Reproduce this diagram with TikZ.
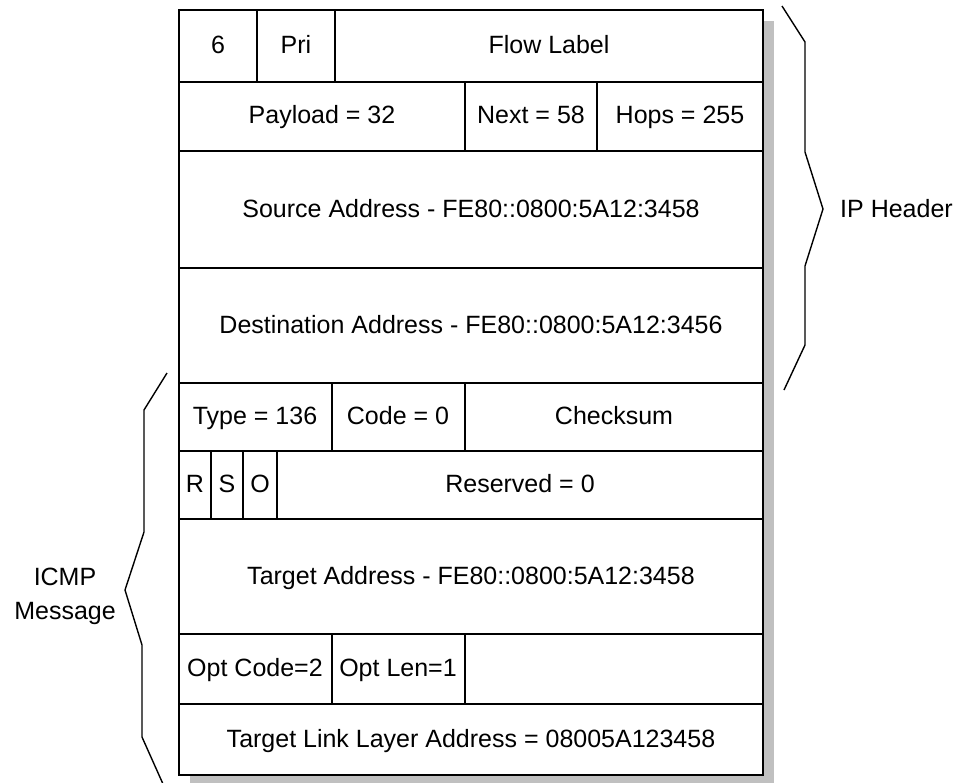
\documentclass[tikz,border=0pt]{standalone}
\usepackage{fontspec}
\setmainfont{Liberation Sans}
\definecolor{shadowgray}{HTML}{C0C0C0}
\begin{document}
\begin{tikzpicture}[x=1pt,y=-1pt,
  font=\fontsize{25}{30}\selectfont,
  cellline/.style={line width=1.3pt},
  outerline/.style={line width=1.8pt},
  brace/.style={line width=1.4pt, line join=miter},
  lbl/.style={inner sep=0pt, text height=18pt, text depth=4pt, anchor=center}]
\useasboundingbox (0,0) rectangle (964,782);
% shadow and packet body
\fill[shadowgray] (190,21) rectangle (774,786);
\fill[white] (179,10) rectangle (763,775);
% row separators
\foreach \yy in {82,151,268,383,451,519,634,704}
  \draw[cellline] (179,\yy) -- (763,\yy);
% column separators
\draw[cellline] (257,10) -- (257,82);
\draw[cellline] (335,10) -- (335,82);
\draw[cellline] (465,82) -- (465,151);
\draw[cellline] (597,82) -- (597,151);
\draw[cellline] (332,383) -- (332,451);
\draw[cellline] (465,383) -- (465,451);
\draw[cellline] (211,451) -- (211,519);
\draw[cellline] (243,451) -- (243,519);
\draw[cellline] (277,451) -- (277,519);
\draw[cellline] (332,634) -- (332,704);
\draw[cellline] (465,634) -- (465,704);
\draw[outerline] (179,10) rectangle (763,775);
% cell texts
\node[lbl] (ver) at (218,46) {6};
\node[lbl] (pri) at (296,46) {Pri};
\node[lbl] (flow) at (549,46) {Flow Label};
\node[lbl] (payload) at (322,116) {Payload = 32};
\node[lbl] (next) at (531,116) {Next = 58};
\node[lbl] (hops) at (680,116) {Hops = 255};
\node[lbl] (src) at (471,210) {Source Address - FE80::0800:5A12:3458};
\node[lbl] (dst) at (471,326) {Destination Address - FE80::0800:5A12:3456};
\node[lbl] (type) at (255,417) {Type = 136};
\node[lbl] (code) at (398,417) {Code = 0};
\node[lbl] (chk) at (614,417) {Checksum};
\node[lbl] (r) at (195,485) {R};
\node[lbl] (s) at (227,485) {S};
\node[lbl] (o) at (260,485) {O};
\node[lbl] (res) at (520,485) {Reserved = 0};
\node[lbl] (tgt) at (471,577) {Target Address - FE80::0800:5A12:3458};
\node[lbl] (optcode) at (255,669) {Opt Code=2};
\node[lbl] (optlen) at (398,669) {Opt Len=1};
\node[lbl] (tlla) at (471,740) {Target Link Layer Address = 08005A123458};
% braces
\draw[brace] (782,6) -- (805,42) -- (805,152) -- (823,209) -- (805,266) -- (805,345) -- (784,390);
\node[lbl, anchor=west] (iph) at (840,210) {IP Header};
\draw[brace] (167,373) -- (144,410) -- (144,532) -- (125,590) -- (142,645) -- (142,737) -- (163,784);
\node[lbl] (icmp1) at (65,578) {ICMP};
\node[lbl] (icmp2) at (65,612) {Message};
\end{tikzpicture}
\end{document}
